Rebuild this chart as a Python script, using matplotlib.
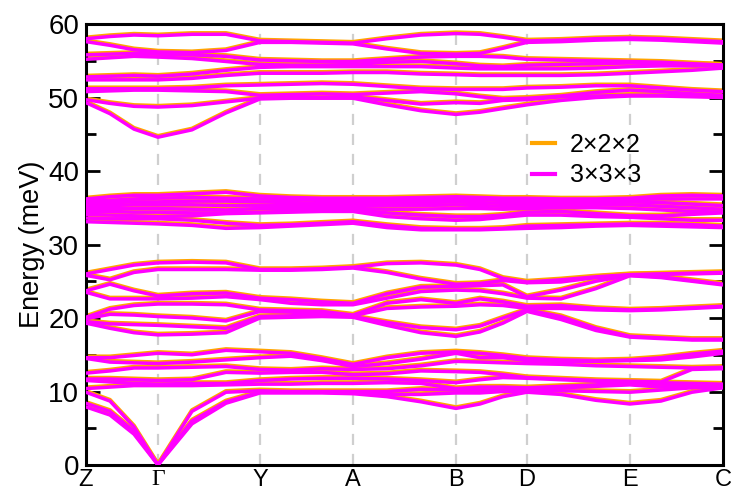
import numpy as np
import matplotlib
matplotlib.use('Agg')
import matplotlib.pyplot as plt
import matplotlib.transforms as mtransforms
from matplotlib.lines import Line2D

# ---------------- data ----------------
kpoint_labels = ['Z', 'Γ', 'Y', 'A', 'B', 'D', 'E', 'C']
kpoint_pos = [0.00, 0.72, 1.74, 2.67, 3.70, 4.41, 5.44, 6.37]
q_path = [0.00, 0.24, 0.48, 0.72, 1.06, 1.40, 1.74, 2.05, 2.36, 2.67, 3.01,
          3.35, 3.70, 3.94, 4.17, 4.41, 4.75, 5.10, 5.44, 5.75, 6.06, 6.37]

# energies (meV) at each q_path point (one row per q point, bands sorted)
low_modes = [
    [14.6, 14.5, 12.5, 11.7, 11.5, 10.4, 9.9, 8.4, 7.9],
    [14.6, 14.0, 12.8, 11.7, 11.3, 10.6, 8.7, 7.3, 6.8],
    [14.9, 13.9, 13.2, 11.6, 11.1, 10.8, 5.2, 4.6, 4.2],
    [15.2, 13.8, 13.2, 11.5, 11.0, 10.8, 0.0, 0.0, 0.0],
    [15.0, 14.0, 13.3, 11.6, 11.1, 10.8, 7.3, 6.0, 5.6],
    [15.6, 14.3, 13.4, 12.6, 11.1, 10.9, 9.9, 8.6, 8.4],
    [15.4, 14.6, 13.0, 12.5, 11.5, 11.0, 10.1, 9.9, 9.8],
    [15.2, 14.8, 12.9, 12.6, 11.7, 11.0, 10.0, 9.9, 9.8],
    [14.5, 14.2, 13.1, 12.6, 11.8, 11.1, 10.0, 9.9, 9.8],
    [13.7, 13.4, 13.0, 12.3, 11.8, 11.1, 10.0, 9.8, 9.7],
    [14.6, 13.8, 13.1, 12.4, 11.7, 11.2, 10.0, 9.6, 9.3],
    [15.2, 14.4, 13.5, 12.8, 11.5, 11.1, 10.3, 9.6, 8.6],
    [15.4, 15.2, 14.1, 12.7, 11.2, 10.4, 10.2, 9.8, 7.7],
    [15.2, 14.6, 14.0, 12.6, 11.6, 10.6, 10.2, 9.8, 8.3],
    [14.9, 14.6, 13.9, 12.3, 11.9, 10.6, 10.2, 10.0, 9.3],
    [14.5, 14.2, 13.8, 11.9, 11.8, 10.5, 10.2, 10.0, 9.9],
    [14.3, 14.1, 13.7, 11.7, 11.6, 10.7, 10.5, 10.1, 9.6],
    [14.2, 14.1, 13.5, 11.5, 11.4, 10.9, 10.7, 10.0, 8.8],
    [14.3, 14.2, 13.4, 11.4, 11.3, 11.2, 10.9, 9.9, 8.3],
    [14.6, 14.3, 13.3, 11.3, 11.2, 11.0, 10.6, 10.2, 8.7],
    [15.1, 14.7, 13.2, 13.0, 11.1, 10.9, 10.7, 10.5, 9.9],
    [15.5, 15.2, 13.3, 13.1, 11.0, 10.9, 10.7, 10.6, 10.5],
]

mid_modes = [
    [26.0, 25.8, 23.7, 23.5, 20.1, 19.9, 19.5, 19.3],
    [26.6, 25.2, 24.6, 22.6, 21.2, 20.5, 19.2, 18.6],
    [27.2, 26.2, 23.7, 22.6, 21.7, 20.4, 19.1, 18.0],
    [27.5, 26.6, 23.0, 22.6, 21.9, 20.2, 19.0, 17.7],
    [27.6, 26.6, 23.3, 22.7, 21.9, 20.0, 18.8, 17.8],
    [27.5, 26.6, 23.4, 22.9, 21.8, 19.6, 18.6, 18.0],
    [26.6, 26.5, 22.7, 22.5, 21.1, 20.9, 20.2, 20.0],
    [26.6, 26.5, 22.5, 22.0, 21.0, 20.8, 20.3, 20.1],
    [26.7, 26.6, 22.2, 21.8, 20.9, 20.6, 20.4, 20.2],
    [26.9, 26.8, 22.0, 21.8, 20.4, 20.3, 20.2, 20.1],
    [27.4, 26.2, 23.3, 22.7, 22.0, 21.3, 19.4, 19.0],
    [27.5, 25.3, 24.2, 23.6, 22.5, 21.5, 18.7, 18.0],
    [27.2, 24.6, 24.3, 23.8, 22.0, 21.6, 18.4, 17.5],
    [26.6, 24.7, 24.4, 23.7, 22.6, 21.8, 18.9, 18.1],
    [25.4, 25.1, 24.5, 23.3, 22.2, 21.7, 20.0, 19.3],
    [24.9, 24.8, 22.9, 22.7, 21.6, 21.3, 21.1, 20.9],
    [25.2, 24.9, 23.8, 22.6, 21.7, 21.3, 20.2, 19.8],
    [25.6, 25.5, 25.0, 24.0, 21.3, 21.1, 18.6, 18.3],
    [25.9, 25.85, 25.8, 25.75, 21.1, 21.0, 17.5, 17.4],
    [26.0, 25.95, 25.6, 25.5, 21.2, 21.1, 17.3, 17.2],
    [26.1, 26.0, 25.1, 25.0, 21.4, 21.3, 17.1, 17.0],
    [26.2, 26.1, 24.6, 24.5, 21.6, 21.5, 17.1, 17.0],
]

upper_modes = [
    [36.2, 35.9, 35.6, 35.3, 34.9, 34.5, 34.1, 33.6, 33.1],
    [36.5, 36.0, 35.7, 35.3, 34.9, 34.5, 34.0, 33.5, 33.0],
    [36.7, 36.2, 35.8, 35.4, 34.9, 34.4, 33.9, 33.5, 32.9],
    [36.7, 36.3, 35.8, 35.4, 34.9, 34.4, 33.8, 33.5, 32.8],
    [36.9, 36.4, 35.9, 35.4, 34.8, 34.3, 33.9, 33.3, 32.6],
    [37.1, 36.3, 35.9, 35.3, 34.7, 34.3, 34.2, 32.9, 32.2],
    [36.6, 36.2, 35.8, 35.3, 34.9, 34.4, 34.3, 32.6, 32.3],
    [36.4, 36.1, 35.7, 35.3, 34.9, 34.5, 34.4, 32.7, 32.5],
    [36.3, 36.0, 35.6, 35.3, 34.9, 34.6, 34.5, 32.9, 32.7],
    [36.3, 36.0, 35.6, 35.3, 34.9, 34.7, 34.5, 33.1, 32.9],
    [36.3, 36.0, 35.7, 35.3, 34.8, 34.3, 33.8, 32.6, 32.3],
    [36.4, 36.1, 35.7, 35.3, 34.8, 34.0, 33.5, 32.2, 32.0],
    [36.5, 36.1, 35.8, 35.4, 34.9, 33.8, 33.3, 32.1, 32.0],
    [36.4, 36.1, 35.7, 35.3, 34.9, 33.8, 33.4, 32.1, 32.0],
    [36.3, 36.0, 35.6, 35.2, 34.8, 34.0, 33.7, 32.2, 32.1],
    [36.3, 36.0, 35.6, 35.2, 34.9, 34.4, 34.0, 32.5, 32.2],
    [36.2, 35.9, 35.6, 35.3, 35.0, 34.5, 34.0, 32.6, 32.3],
    [36.2, 36.0, 35.7, 35.4, 35.0, 34.2, 33.8, 32.7, 32.5],
    [36.3, 36.1, 35.8, 35.4, 34.9, 33.9, 33.7, 32.8, 32.6],
    [36.6, 36.2, 35.7, 35.2, 34.7, 33.9, 33.5, 32.8, 32.5],
    [36.7, 36.2, 35.5, 35.0, 34.5, 34.1, 33.3, 32.7, 32.4],
    [36.6, 36.2, 35.3, 34.8, 34.4, 34.3, 33.3, 32.5, 32.3],
]

top_modes = [
    [58.0, 57.6, 55.8, 55.2, 52.8, 52.4, 51.2, 50.8, 49.7, 49.3],
    [58.3, 57.1, 55.9, 55.4, 52.9, 52.4, 51.2, 50.9, 49.2, 47.8],
    [58.5, 56.5, 56.0, 55.6, 53.0, 52.4, 51.2, 51.0, 48.8, 45.7],
    [58.4, 56.2, 55.9, 55.5, 52.9, 52.4, 51.2, 51.0, 48.7, 44.6],
    [58.6, 56.1, 55.8, 55.3, 53.2, 52.6, 51.3, 50.9, 48.9, 45.6],
    [58.6, 56.4, 55.6, 54.9, 53.7, 53.0, 51.6, 50.8, 49.4, 47.9],
    [57.7, 57.5, 55.1, 54.5, 54.1, 53.3, 51.7, 50.3, 49.9, 49.8],
    [57.6, 57.5, 55.0, 54.4, 54.2, 53.3, 51.8, 50.4, 50.0, 49.9],
    [57.5, 57.4, 54.9, 54.4, 54.2, 53.3, 51.9, 50.5, 50.0, 49.9],
    [57.4, 57.3, 54.9, 54.5, 54.2, 53.4, 51.8, 50.4, 50.1, 49.9],
    [58.0, 56.6, 55.2, 54.8, 54.2, 53.4, 51.5, 50.6, 49.6, 49.0],
    [58.5, 56.0, 55.5, 54.9, 54.2, 53.2, 51.2, 50.8, 49.1, 48.2],
    [58.7, 55.9, 55.6, 54.6, 54.0, 53.1, 51.1, 50.5, 49.3, 47.7],
    [58.6, 56.0, 55.6, 54.3, 53.9, 53.0, 51.1, 50.1, 49.2, 48.0],
    [58.2, 56.7, 55.5, 54.2, 53.9, 53.0, 51.1, 49.8, 49.6, 48.5],
    [57.7, 57.5, 55.2, 54.4, 53.9, 53.0, 51.3, 49.9, 49.7, 49.0],
    [57.8, 57.6, 55.1, 54.5, 53.9, 53.0, 51.4, 50.2, 50.1, 49.6],
    [58.0, 57.8, 55.0, 54.6, 54.0, 53.1, 51.6, 50.7, 50.2, 50.0],
    [58.1, 57.9, 54.9, 54.7, 54.2, 53.3, 51.6, 51.0, 50.3, 50.2],
    [58.0, 57.8, 54.8, 54.6, 54.3, 53.5, 51.3, 50.8, 50.3, 50.2],
    [57.8, 57.6, 54.6, 54.5, 54.3, 53.7, 51.0, 50.5, 50.2, 50.1],
    [57.6, 57.4, 54.4, 54.4, 54.3, 54.0, 50.8, 50.3, 50.1, 50.0],
]

series_labels = ['2×2×2', '3×3×3']
series_colors = ['#FFA500', '#FF00FF']
y_ticks = [0, 10, 20, 30, 40, 50, 60]

# ---------------- figure ----------------
plt.rcParams['font.family'] = ['Liberation Sans', 'DejaVu Sans']
fig = plt.figure(figsize=(7.31, 4.95), dpi=100)
ax = fig.add_axes([0.1176, 0.0606, 0.8714, 0.8909])

q = np.array(q_path)
bands = np.hstack([np.array(g) for g in (low_modes, mid_modes, upper_modes, top_modes)]).T

# vertical guides
for xp in kpoint_pos[1:-1]:
    ax.axvline(xp, color='#cfcfcf', lw=1.6, ls=(0, (5, 4)), zorder=1)

shift_up = mtransforms.offset_copy(ax.transData, fig=fig, x=0, y=1.3, units='dots')
for b in bands:
    ax.plot(q, b, color=series_colors[0], lw=2.8, transform=shift_up, zorder=2,
            solid_capstyle='round', solid_joinstyle='round')
for b in bands:
    ax.plot(q, b, color=series_colors[1], lw=2.5, zorder=3,
            solid_capstyle='round', solid_joinstyle='round')

ax.set_xlim(kpoint_pos[0], kpoint_pos[-1])
ax.set_ylim(0, 60)
ax.set_xticks(kpoint_pos)
ax.set_xticklabels(kpoint_labels)
for lbl in ax.get_xticklabels():
    if lbl.get_text() == 'Γ':
        lbl.set_family(['Liberation Serif', 'DejaVu Serif'])
        lbl.set_fontsize(19)
ax.set_yticks(y_ticks)
ax.set_yticks(np.arange(5, 60, 10), minor=True)

ax.tick_params(axis='y', which='major', direction='in', length=10, width=2,
               right=True, labelsize=20, pad=5)
ax.tick_params(axis='y', which='minor', direction='in', length=7, width=2, right=True)
ax.tick_params(axis='x', which='both', length=0, labelsize=17, pad=3)
for sp in ax.spines.values():
    sp.set_linewidth(2.2)

ax.set_ylabel('Energy (meV)', fontsize=19.5, labelpad=2)

handles = [Line2D([], [], color=c, lw=3.0) for c in series_colors]
ax.legend(handles, series_labels, loc='upper left', bbox_to_anchor=(0.685, 0.775),
          frameon=False, fontsize=18, handlelength=0.9, handletextpad=0.6,
          labelspacing=0.25, borderaxespad=0)

fig.savefig('out.png', dpi=100)
